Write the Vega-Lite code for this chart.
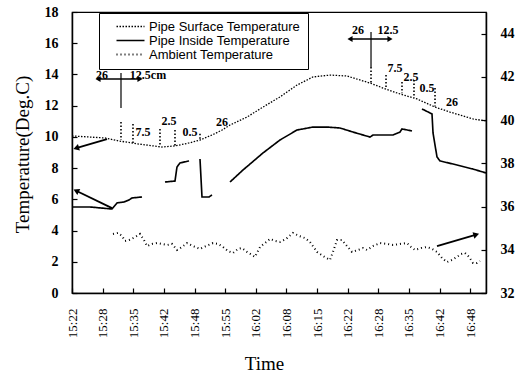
{
  "$schema": "https://vega.github.io/schema/vega-lite/v6.json",
  "width": 414,
  "height": 281,
  "autosize": "none",
  "padding": {"left": 72, "top": 12, "right": 39, "bottom": 81},
  "background": "white",
  "config": {
    "view": {"stroke": "black", "strokeWidth": 1.2},
    "font": "Liberation Serif",
    "axis": {"domainColor": "black", "domainWidth": 1.5, "tickColor": "black", "tickWidth": 1.2, "grid": false, "labelColor": "black", "titleColor": "black", "labelOverlap": false}
  },
  "datasets": {
    "lines": [
      {"series": "Pipe Surface Temperature", "seg": "s", "t": 0, "v": 10.06},
      {"series": "Pipe Surface Temperature", "seg": "s", "t": 3.89, "v": 9.99},
      {"series": "Pipe Surface Temperature", "seg": "s", "t": 7.13, "v": 9.93},
      {"series": "Pipe Surface Temperature", "seg": "s", "t": 10.15, "v": 9.74},
      {"series": "Pipe Surface Temperature", "seg": "s", "t": 14.47, "v": 9.54},
      {"series": "Pipe Surface Temperature", "seg": "s", "t": 19.43, "v": 9.35},
      {"series": "Pipe Surface Temperature", "seg": "s", "t": 22.24, "v": 9.42},
      {"series": "Pipe Surface Temperature", "seg": "s", "t": 25.27, "v": 9.61},
      {"series": "Pipe Surface Temperature", "seg": "s", "t": 27.64, "v": 9.8},
      {"series": "Pipe Surface Temperature", "seg": "s", "t": 30.45, "v": 10.15},
      {"series": "Pipe Surface Temperature", "seg": "s", "t": 32.4, "v": 10.44},
      {"series": "Pipe Surface Temperature", "seg": "s", "t": 34.12, "v": 10.76},
      {"series": "Pipe Surface Temperature", "seg": "s", "t": 37.79, "v": 11.27},
      {"series": "Pipe Surface Temperature", "seg": "s", "t": 41.24, "v": 11.91},
      {"series": "Pipe Surface Temperature", "seg": "s", "t": 44.91, "v": 12.56},
      {"series": "Pipe Surface Temperature", "seg": "s", "t": 48.59, "v": 13.32},
      {"series": "Pipe Surface Temperature", "seg": "s", "t": 52.04, "v": 13.84},
      {"series": "Pipe Surface Temperature", "seg": "s", "t": 55.71, "v": 13.96},
      {"series": "Pipe Surface Temperature", "seg": "s", "t": 59.38, "v": 13.9},
      {"series": "Pipe Surface Temperature", "seg": "s", "t": 64.35, "v": 13.45},
      {"series": "Pipe Surface Temperature", "seg": "s", "t": 67.16, "v": 13.13},
      {"series": "Pipe Surface Temperature", "seg": "s", "t": 70.83, "v": 12.75},
      {"series": "Pipe Surface Temperature", "seg": "s", "t": 74.5, "v": 12.43},
      {"series": "Pipe Surface Temperature", "seg": "s", "t": 78.39, "v": 11.91},
      {"series": "Pipe Surface Temperature", "seg": "s", "t": 81.63, "v": 11.59},
      {"series": "Pipe Surface Temperature", "seg": "s", "t": 86.59, "v": 11.15},
      {"series": "Pipe Surface Temperature", "seg": "s", "t": 89.4, "v": 11.02},
      {"series": "Pipe Inside Temperature", "seg": "i1", "t": 0, "v": 5.51},
      {"series": "Pipe Inside Temperature", "seg": "i1", "t": 3.89, "v": 5.51},
      {"series": "Pipe Inside Temperature", "seg": "i1", "t": 8.64, "v": 5.38},
      {"series": "Pipe Inside Temperature", "seg": "i1", "t": 9.72, "v": 5.77},
      {"series": "Pipe Inside Temperature", "seg": "i1", "t": 11.23, "v": 5.83},
      {"series": "Pipe Inside Temperature", "seg": "i1", "t": 12.31, "v": 5.96},
      {"series": "Pipe Inside Temperature", "seg": "i1", "t": 12.96, "v": 6.09},
      {"series": "Pipe Inside Temperature", "seg": "i1", "t": 15.12, "v": 6.15},
      {"series": "Pipe Inside Temperature", "seg": "i2", "t": 20.08, "v": 7.11},
      {"series": "Pipe Inside Temperature", "seg": "i2", "t": 22.24, "v": 7.17},
      {"series": "Pipe Inside Temperature", "seg": "i2", "t": 22.67, "v": 8.07},
      {"series": "Pipe Inside Temperature", "seg": "i2", "t": 23.32, "v": 8.33},
      {"series": "Pipe Inside Temperature", "seg": "i2", "t": 25.27, "v": 8.46},
      {"series": "Pipe Inside Temperature", "seg": "i3", "t": 27.64, "v": 8.58},
      {"series": "Pipe Inside Temperature", "seg": "i3", "t": 28.07, "v": 6.15},
      {"series": "Pipe Inside Temperature", "seg": "i3", "t": 29.58, "v": 6.15},
      {"series": "Pipe Inside Temperature", "seg": "i3", "t": 30.23, "v": 6.28},
      {"series": "Pipe Inside Temperature", "seg": "i4", "t": 34.12, "v": 7.11},
      {"series": "Pipe Inside Temperature", "seg": "i4", "t": 36.93, "v": 7.88},
      {"series": "Pipe Inside Temperature", "seg": "i4", "t": 41.24, "v": 8.97},
      {"series": "Pipe Inside Temperature", "seg": "i4", "t": 44.91, "v": 9.8},
      {"series": "Pipe Inside Temperature", "seg": "i4", "t": 48.59, "v": 10.44},
      {"series": "Pipe Inside Temperature", "seg": "i4", "t": 52.04, "v": 10.63},
      {"series": "Pipe Inside Temperature", "seg": "i4", "t": 55.06, "v": 10.63},
      {"series": "Pipe Inside Temperature", "seg": "i4", "t": 57.87, "v": 10.57},
      {"series": "Pipe Inside Temperature", "seg": "i4", "t": 60.68, "v": 10.31},
      {"series": "Pipe Inside Temperature", "seg": "i4", "t": 64.35, "v": 9.99},
      {"series": "Pipe Inside Temperature", "seg": "i4", "t": 65.0, "v": 10.12},
      {"series": "Pipe Inside Temperature", "seg": "i4", "t": 67.16, "v": 10.12},
      {"series": "Pipe Inside Temperature", "seg": "i4", "t": 69.32, "v": 10.12},
      {"series": "Pipe Inside Temperature", "seg": "i4", "t": 70.83, "v": 10.31},
      {"series": "Pipe Inside Temperature", "seg": "i4", "t": 71.26, "v": 10.51},
      {"series": "Pipe Inside Temperature", "seg": "i4", "t": 73.42, "v": 10.38},
      {"series": "Pipe Inside Temperature", "seg": "i5", "t": 75.58, "v": 11.79},
      {"series": "Pipe Inside Temperature", "seg": "i5", "t": 77.74, "v": 11.47},
      {"series": "Pipe Inside Temperature", "seg": "i5", "t": 77.96, "v": 10.25},
      {"series": "Pipe Inside Temperature", "seg": "i5", "t": 78.82, "v": 8.71},
      {"series": "Pipe Inside Temperature", "seg": "i5", "t": 79.47, "v": 8.46},
      {"series": "Pipe Inside Temperature", "seg": "i5", "t": 83.14, "v": 8.2},
      {"series": "Pipe Inside Temperature", "seg": "i5", "t": 86.59, "v": 7.94},
      {"series": "Pipe Inside Temperature", "seg": "i5", "t": 89.4, "v": 7.69}
    ],
    "ambient": [
      {"series": "Ambient Temperature", "t": 8.85, "v": 34.73},
      {"series": "Ambient Temperature", "t": 9.93, "v": 34.78},
      {"series": "Ambient Temperature", "t": 10.8, "v": 34.64},
      {"series": "Ambient Temperature", "t": 11.45, "v": 34.41},
      {"series": "Ambient Temperature", "t": 12.31, "v": 34.45},
      {"series": "Ambient Temperature", "t": 13.17, "v": 34.54},
      {"series": "Ambient Temperature", "t": 14.04, "v": 34.64},
      {"series": "Ambient Temperature", "t": 14.68, "v": 34.73},
      {"series": "Ambient Temperature", "t": 15.55, "v": 34.45},
      {"series": "Ambient Temperature", "t": 16.2, "v": 34.17},
      {"series": "Ambient Temperature", "t": 17.28, "v": 34.27},
      {"series": "Ambient Temperature", "t": 18.36, "v": 34.31},
      {"series": "Ambient Temperature", "t": 19.43, "v": 34.27},
      {"series": "Ambient Temperature", "t": 20.51, "v": 34.22},
      {"series": "Ambient Temperature", "t": 21.59, "v": 34.27},
      {"series": "Ambient Temperature", "t": 22.67, "v": 33.99},
      {"series": "Ambient Temperature", "t": 23.75, "v": 34.13},
      {"series": "Ambient Temperature", "t": 24.83, "v": 34.31},
      {"series": "Ambient Temperature", "t": 26.13, "v": 34.17},
      {"series": "Ambient Temperature", "t": 27.64, "v": 34.04},
      {"series": "Ambient Temperature", "t": 28.94, "v": 34.17},
      {"series": "Ambient Temperature", "t": 30.45, "v": 34.31},
      {"series": "Ambient Temperature", "t": 31.53, "v": 34.27},
      {"series": "Ambient Temperature", "t": 32.61, "v": 34.13},
      {"series": "Ambient Temperature", "t": 33.69, "v": 33.94},
      {"series": "Ambient Temperature", "t": 34.77, "v": 33.85},
      {"series": "Ambient Temperature", "t": 35.85, "v": 34.04},
      {"series": "Ambient Temperature", "t": 36.71, "v": 34.08},
      {"series": "Ambient Temperature", "t": 37.79, "v": 33.9},
      {"series": "Ambient Temperature", "t": 39.52, "v": 33.67},
      {"series": "Ambient Temperature", "t": 40.6, "v": 34.13},
      {"series": "Ambient Temperature", "t": 41.68, "v": 34.31},
      {"series": "Ambient Temperature", "t": 42.76, "v": 34.5},
      {"series": "Ambient Temperature", "t": 43.84, "v": 34.41},
      {"series": "Ambient Temperature", "t": 44.91, "v": 34.36},
      {"series": "Ambient Temperature", "t": 46.21, "v": 34.5},
      {"series": "Ambient Temperature", "t": 47.72, "v": 34.78},
      {"series": "Ambient Temperature", "t": 49.02, "v": 34.64},
      {"series": "Ambient Temperature", "t": 50.31, "v": 34.54},
      {"series": "Ambient Temperature", "t": 51.39, "v": 34.36},
      {"series": "Ambient Temperature", "t": 52.91, "v": 33.9},
      {"series": "Ambient Temperature", "t": 54.2, "v": 33.71},
      {"series": "Ambient Temperature", "t": 55.71, "v": 33.53},
      {"series": "Ambient Temperature", "t": 56.36, "v": 33.9},
      {"series": "Ambient Temperature", "t": 57.22, "v": 34.45},
      {"series": "Ambient Temperature", "t": 58.3, "v": 34.45},
      {"series": "Ambient Temperature", "t": 59.38, "v": 34.17},
      {"series": "Ambient Temperature", "t": 60.46, "v": 33.9},
      {"series": "Ambient Temperature", "t": 61.76, "v": 33.99},
      {"series": "Ambient Temperature", "t": 62.84, "v": 34.08},
      {"series": "Ambient Temperature", "t": 63.7, "v": 33.99},
      {"series": "Ambient Temperature", "t": 65.0, "v": 34.17},
      {"series": "Ambient Temperature", "t": 66.51, "v": 34.31},
      {"series": "Ambient Temperature", "t": 68.02, "v": 34.27},
      {"series": "Ambient Temperature", "t": 69.32, "v": 34.22},
      {"series": "Ambient Temperature", "t": 70.83, "v": 34.27},
      {"series": "Ambient Temperature", "t": 72.34, "v": 34.31},
      {"series": "Ambient Temperature", "t": 73.21, "v": 34.13},
      {"series": "Ambient Temperature", "t": 74.07, "v": 33.99},
      {"series": "Ambient Temperature", "t": 75.37, "v": 34.08},
      {"series": "Ambient Temperature", "t": 76.66, "v": 34.13},
      {"series": "Ambient Temperature", "t": 77.74, "v": 34.04},
      {"series": "Ambient Temperature", "t": 78.82, "v": 33.9},
      {"series": "Ambient Temperature", "t": 79.9, "v": 33.62},
      {"series": "Ambient Temperature", "t": 80.98, "v": 33.43},
      {"series": "Ambient Temperature", "t": 82.06, "v": 33.53},
      {"series": "Ambient Temperature", "t": 83.14, "v": 33.67},
      {"series": "Ambient Temperature", "t": 84.0, "v": 33.8},
      {"series": "Ambient Temperature", "t": 84.86, "v": 33.85},
      {"series": "Ambient Temperature", "t": 85.73, "v": 33.67},
      {"series": "Ambient Temperature", "t": 86.59, "v": 33.39},
      {"series": "Ambient Temperature", "t": 87.46, "v": 33.39},
      {"series": "Ambient Temperature", "t": 88.1, "v": 33.48}
    ],
    "vsolid": [
      {"t": 10.58, "v": 14.09, "v2": 11.85},
      {"t": 64.57, "v": 16.72, "v2": 14.48}
    ],
    "vdot": [
      {"t": 10.58, "v": 10.95, "v2": 9.8},
      {"t": 13.17, "v": 10.83, "v2": 9.6},
      {"t": 19.0, "v": 10.51, "v2": 9.4},
      {"t": 22.24, "v": 10.44, "v2": 9.42},
      {"t": 27.64, "v": 10.2, "v2": 9.86},
      {"t": 64.57, "v": 14.48, "v2": 13.45},
      {"t": 67.81, "v": 13.96, "v2": 13.1},
      {"t": 71.26, "v": 13.52, "v2": 12.8},
      {"t": 73.85, "v": 13.64, "v2": 12.5},
      {"t": 78.39, "v": 13.13, "v2": 11.95}
    ],
    "harrow": [
      {"t": 5.61, "t2": 14.68, "v": 13.71},
      {"t": 60.03, "t2": 68.67, "v": 16.27}
    ],
    "harrowR": [
      {"t": 14.68, "v": 13.71},
      {"t": 68.67, "v": 16.27}
    ],
    "notes": [
      {"t": 6.48, "v": 13.96, "label": "26"},
      {"t": 16.41, "v": 13.96, "label": "12.5cm"},
      {"t": 15.33, "v": 10.31, "label": "7.5"},
      {"t": 20.95, "v": 11.02, "label": "2.5"},
      {"t": 25.48, "v": 10.31, "label": "0.5"},
      {"t": 32.39, "v": 10.95, "label": "26"},
      {"t": 61.76, "v": 16.85, "label": "26"},
      {"t": 68.24, "v": 16.85, "label": "12.5"},
      {"t": 69.75, "v": 14.41, "label": "7.5"},
      {"t": 73.2, "v": 13.84, "label": "2.5"},
      {"t": 76.66, "v": 13.13, "label": "0.5"},
      {"t": 82.06, "v": 12.23, "label": "26"}
    ]
  },
  "encoding": {
    "x": {
      "field": "t", "type": "quantitative", "title": "Time",
      "scale": {"domain": [0, 89.4], "nice": false, "zero": false},
      "axis": {
        "values": [0, 6.6154, 13.2308, 19.8462, 26.4615, 33.0769, 39.6923, 46.3077, 52.9231, 59.5385, 66.1538, 72.7692, 79.3846, 86],
        "labelExpr": "['15:22','15:28','15:35','15:42','15:48','15:55','16:02','16:08','16:15','16:22','16:28','16:35','16:42','16:48'][round(datum.value*13/86)]",
        "labelAngle": 270,
        "labelFont": "Liberation Serif",
        "labelFontSize": 13,
        "labelPadding": 20,
        "labelOverlap": false,
        "tickSize": -5,
        "title": "Time",
        "titleFont": "Liberation Serif",
        "titleFontSize": 19,
        "titleFontWeight": "normal",
        "titleX": 192,
        "titleY": 76,
        "titleBaseline": "alphabetic"
      }
    }
  },
  "layer": [
    {
      "encoding": {
        "y": {
          "field": "v", "type": "quantitative", "title": "Temperature(Deg.C)",
          "scale": {"domain": [0, 18], "nice": false},
          "axis": {
            "orient": "left",
            "values": [0, 2, 4, 6, 8, 10, 12, 14, 16, 18],
            "labelFont": "Liberation Serif",
            "labelFontSize": 14,
            "labelFontWeight": "bold",
            "labelPadding": 19,
            "labelOverlap": false,
            "tickSize": -5,
            "title": "Temperature(Deg.C)",
            "titleFont": "Liberation Serif",
            "titleFontSize": 19,
            "titleFontWeight": "normal",
            "titleAngle": 270,
            "titleX": -50,
            "titleY": 142,
            "titleBaseline": "middle",
            "titleAlign": "center"
          }
        }
      },
      "layer": [
        {
          "data": {"name": "lines"},
          "mark": {"type": "line", "color": "black"},
          "encoding": {
            "detail": {"field": "seg"},
            "strokeDash": {
              "field": "series", "type": "nominal",
              "scale": {"domain": ["Pipe Surface Temperature", "Pipe Inside Temperature", "Ambient Temperature"], "range": [[1.5, 1.5], [1, 0], [1, 3]]},
              "legend": {
                "orient": "none", "legendX": 27, "legendY": 1, "title": null,
                "strokeColor": "black", "fillColor": "white", "padding": 7,
                "labelFont": "Liberation Sans", "labelFontSize": 13, "labelColor": "black",
                "symbolType": "M-2.8,0H2.8", "symbolSize": 100, "symbolStrokeColor": "black", "symbolStrokeWidth": 1.3,
                "symbolOffset": 18, "rowPadding": -1, "labelOffset": 12
              }
            },
            "strokeWidth": {
              "field": "series", "type": "nominal",
              "scale": {"domain": ["Pipe Surface Temperature", "Pipe Inside Temperature", "Ambient Temperature"], "range": [1.3, 2, 1]},
              "legend": null
            }
          }
        },
        {
          "data": {"name": "vsolid"},
          "mark": {"type": "rule", "color": "black", "strokeWidth": 1.2},
          "encoding": {"y2": {"field": "v2"}}
        },
        {
          "data": {"name": "vdot"},
          "mark": {"type": "rule", "color": "black", "strokeWidth": 1.6, "strokeDash": [1.5, 2]},
          "encoding": {"y2": {"field": "v2"}}
        },
        {
          "data": {"name": "harrow"},
          "mark": {"type": "rule", "color": "black", "strokeWidth": 1.5},
          "encoding": {"x2": {"field": "t2"}}
        },
        {
          "data": {"name": "harrow"},
          "mark": {"type": "point", "shape": "triangle-up", "filled": true, "color": "black", "size": 35, "angle": 270, "opacity": 1},
          "encoding": {}
        },
        {
          "data": {"name": "harrowR"},
          "mark": {"type": "point", "shape": "triangle-up", "filled": true, "color": "black", "size": 35, "angle": 90, "opacity": 1},
          "encoding": {}
        },
        {
          "data": {"values": [{"t": 7.56, "v": 9.86, "t2": 0.9, "v2": 9.28}]},
          "mark": {"type": "rule", "color": "black", "strokeWidth": 1.8},
          "encoding": {"x2": {"field": "t2"}, "y2": {"field": "v2"}}
        },
        {
          "data": {"values": [{"t": 0.9, "v": 9.28}]},
          "mark": {"type": "point", "shape": "triangle-up", "filled": true, "color": "black", "size": 45, "angle": 253, "opacity": 1},
          "encoding": {}
        },
        {
          "data": {"values": [{"t": 8.64, "v": 5.44, "t2": 0.9, "v2": 6.55}]},
          "mark": {"type": "rule", "color": "black", "strokeWidth": 1.8},
          "encoding": {"x2": {"field": "t2"}, "y2": {"field": "v2"}}
        },
        {
          "data": {"values": [{"t": 0.9, "v": 6.55}]},
          "mark": {"type": "point", "shape": "triangle-up", "filled": true, "color": "black", "size": 45, "angle": 296, "opacity": 1},
          "encoding": {}
        },
        {
          "data": {"name": "notes"},
          "mark": {"type": "text", "font": "Liberation Serif", "fontSize": 12, "fontWeight": "bold", "color": "black", "baseline": "middle", "align": "center"},
          "encoding": {"text": {"field": "label"}}
        }
      ]
    },
    {
      "encoding": {
        "y": {
          "field": "v", "type": "quantitative", "title": null,
          "scale": {"domain": [32, 45], "nice": false, "zero": false},
          "axis": {
            "orient": "right",
            "values": [32, 34, 36, 38, 40, 42, 44],
            "labelFont": "Liberation Serif",
            "labelFontSize": 14,
            "labelFontWeight": "bold",
            "labelPadding": 19,
            "labelOverlap": false,
            "tickSize": -5,
            "title": null
          }
        }
      },
      "layer": [
        {
          "data": {"name": "ambient"},
          "mark": {"type": "line", "color": "black"},
          "encoding": {
            "strokeDash": {"field": "series", "type": "nominal"},
            "strokeWidth": {"field": "series", "type": "nominal", "legend": null}
          }
        },
        {
          "data": {"values": [{"t": 78.82, "v": 34.17, "t2": 87.3, "v2": 34.7}]},
          "mark": {"type": "rule", "color": "black", "strokeWidth": 1.8},
          "encoding": {"x2": {"field": "t2"}, "y2": {"field": "v2"}}
        },
        {
          "data": {"values": [{"t": 87.3, "v": 34.7}]},
          "mark": {"type": "point", "shape": "triangle-up", "filled": true, "color": "black", "size": 45, "angle": 74, "opacity": 1},
          "encoding": {}
        }
      ]
    }
  ],
  "resolve": {"scale": {"y": "independent"}}
}
